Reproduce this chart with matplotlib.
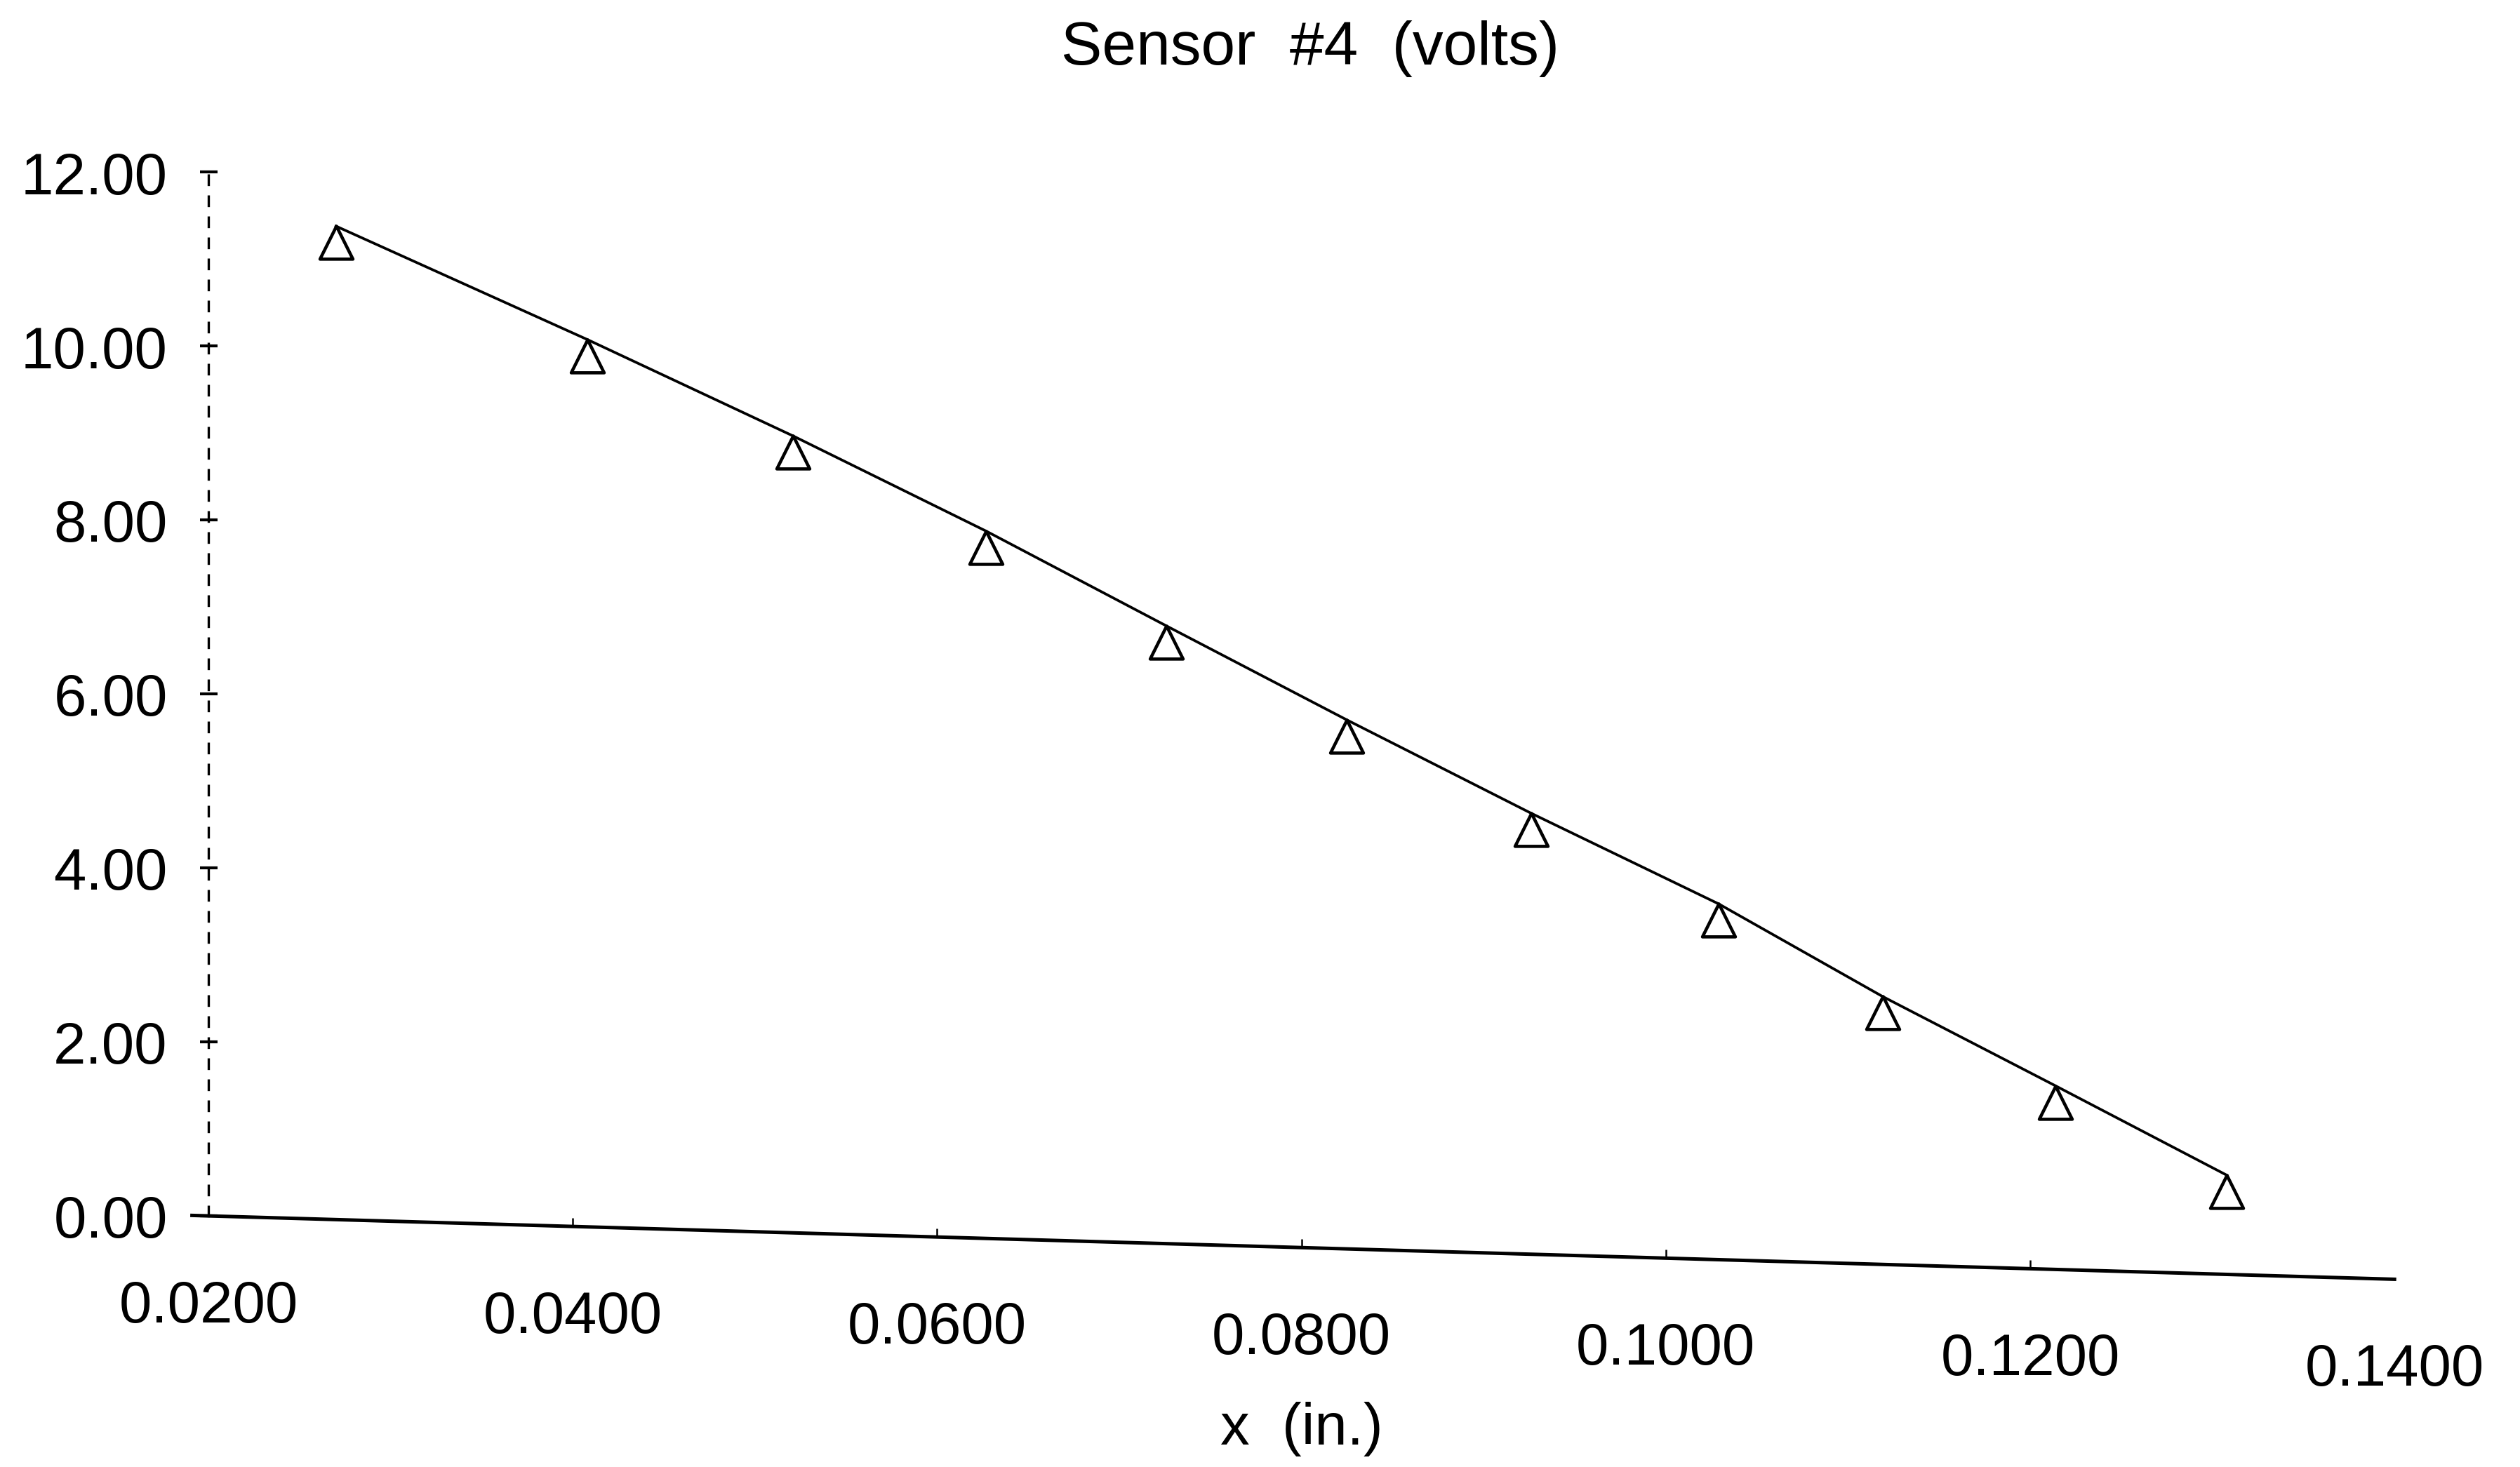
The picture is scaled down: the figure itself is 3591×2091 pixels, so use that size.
import numpy as np
import matplotlib
matplotlib.use("Agg")
import matplotlib.pyplot as plt
from matplotlib.path import Path
from matplotlib.transforms import Affine2D, ScaledTranslation

# data (displacement vs. sensor output)
x_in = [0.0270, 0.0408, 0.0521, 0.0627, 0.0726, 0.0825, 0.0926, 0.1029, 0.1119, 0.1214, 0.1308]
volts = [11.42, 10.20, 9.16, 8.13, 7.10, 6.08, 5.07, 4.09, 3.08, 2.11, 1.14]

x_ticks = [0.02, 0.04, 0.06, 0.08, 0.10, 0.12, 0.14]
y_ticks = [0, 2, 4, 6, 8, 10, 12]

title = "Sensor  #4  (volts)"
xlabel = "x  (in.)"

# the scan is slightly sheared: things drop as they go right
SLANT = 0.029

plt.rcParams['font.family'] = ['Liberation Sans', 'DejaVu Sans']

fig = plt.figure(figsize=(11.97, 6.973), dpi=300)
ax = fig.add_axes([0.0827, 0.1711, 0.8675, 0.7113])
ax.set_xlim(x_ticks[0], x_ticks[-1])
ax.set_ylim(y_ticks[0], y_ticks[-1])

x0 = ax.transData.transform((x_ticks[0], 0))[0]
shear = Affine2D().translate(-x0, 0).skew(0, np.arctan(-SLANT)).translate(x0, 0)
skewed = ax.transData + shear

# triangle marker with its apex on the data point
tri = Path([(0, 0), (-0.5, -1), (0.5, -1), (0, 0)],
           [Path.MOVETO, Path.LINETO, Path.LINETO, Path.CLOSEPOLY])

ax.plot(x_in, volts, '-', color='black', linewidth=0.9, transform=skewed, clip_on=False)
ax.plot(x_in, volts, linestyle='none', marker=tri, markersize=22.5,
        markerfacecolor='white', markeredgecolor='black', markeredgewidth=1.1,
        transform=skewed, clip_on=False)

# slanted x axis line with faint ticks
ax.plot([x_ticks[0] - 0.0009, x_ticks[-1]], [0, 0], '-', color='black',
        linewidth=1.2, transform=skewed, clip_on=False)
ax.plot(x_ticks[1:-1], np.zeros(len(x_ticks) - 2), linestyle='none', marker=2, markersize=3,
        markeredgewidth=0.6, color='black', transform=skewed, clip_on=False)

lab_off = ScaledTranslation(0, -0.43, fig.dpi_scale_trans)
for xv in x_ticks:
    ax.text(xv, 0, f'{xv:.4f}', transform=skewed + lab_off, fontsize=20,
            ha='center', va='center')

ax.text(0.08, 0, xlabel, transform=skewed + ScaledTranslation(0, -0.86, fig.dpi_scale_trans),
        fontsize=20, ha='center', va='center')

# y axis
for s in ['top', 'right', 'bottom']:
    ax.spines[s].set_visible(False)
ax.spines['left'].set_linestyle((0, (4, 5)))
ax.spines['left'].set_linewidth(0.8)
ax.set_xticks([])
ax.set_yticks(y_ticks)
ax.set_yticklabels([f'{v:.2f}' for v in y_ticks])
ax.tick_params(axis='y', direction='inout', length=6, width=1.0, pad=11, labelsize=20)

fig.text(0.52, 0.967, title, fontsize=21, ha='center', va='center')

fig.savefig('out.png', dpi=300)
